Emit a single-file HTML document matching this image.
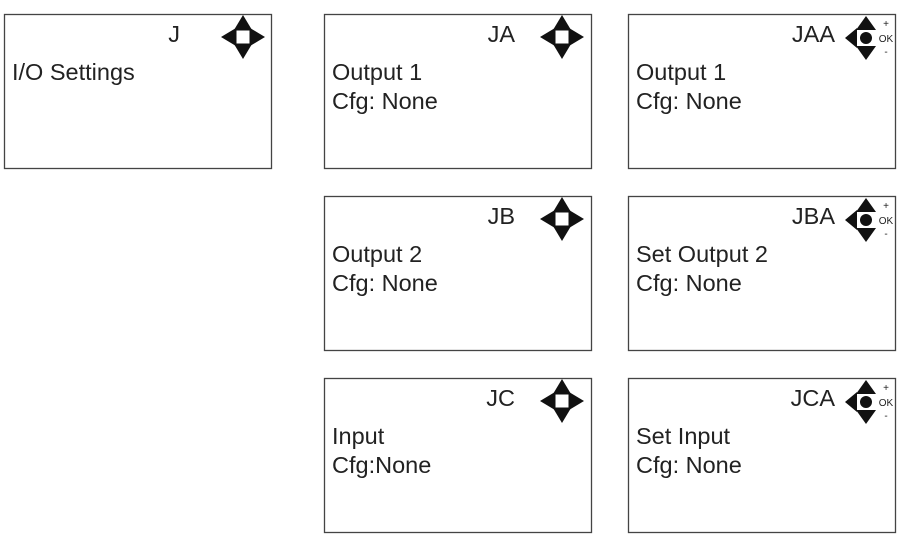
<!DOCTYPE html>
<html><head><meta charset="utf-8"><style>
html,body{margin:0;padding:0;background:#fff;}
svg{display:block;}
text{font-family:"Liberation Sans",sans-serif;fill:#222;}
.t{font-size:23.5px;}
.s{font-size:10px;}
</style></head><body>
<svg width="911" height="545" viewBox="0 0 911 545" xmlns="http://www.w3.org/2000/svg">
<defs>
<g id="nav">
<polygon points="0,-22 -9,-7 9,-7" fill="#111"/>
<polygon points="0,22 -9,7 9,7" fill="#111"/>
<polygon points="-22,0 -7,-9 -7,9" fill="#111"/>
<polygon points="22,0 7,-9 7,9" fill="#111"/>
<rect x="-8" y="-8" width="16" height="16" fill="#111"/>
<rect x="-6.5" y="-6.5" width="13" height="13" fill="#fff"/>
</g>
<g id="ok">
<polygon points="0,-22 -10,-8 10,-8" fill="#111"/>
<polygon points="0,22 -10,8 10,8" fill="#111"/>
<polygon points="-21,0 -9,-10 -9,10" fill="#111"/>
<circle cx="0" cy="0" r="6" fill="#111"/>
<text class="s" x="20" y="-11" text-anchor="middle">+</text>
<text class="s" x="20" y="4" text-anchor="middle">OK</text>
<text class="s" x="20" y="17" text-anchor="middle">-</text>
</g>
</defs>
<g fill="#fff" stroke="#444" stroke-width="1.3">
<rect x="4.5" y="14.5" width="267" height="154"/>
<rect x="324.5" y="14.5" width="267" height="154"/>
<rect x="628.5" y="14.5" width="267" height="154"/>
<rect x="324.5" y="196.5" width="267" height="154"/>
<rect x="628.5" y="196.5" width="267" height="154"/>
<rect x="324.5" y="378.5" width="267" height="154"/>
<rect x="628.5" y="378.5" width="267" height="154"/>
</g>
<use href="#nav" x="243" y="37"/>
<use href="#nav" x="562" y="37"/>
<use href="#nav" x="562" y="219"/>
<use href="#nav" x="562" y="401"/>
<use href="#ok" x="866" y="38"/>
<use href="#ok" x="866" y="220"/>
<use href="#ok" x="866" y="402"/>
<text class="t" x="180" y="42" text-anchor="end">J</text>
<text class="t" x="515" y="42" text-anchor="end">JA</text>
<text class="t" x="515" y="224" text-anchor="end">JB</text>
<text class="t" x="515" y="406" text-anchor="end">JC</text>
<text class="t" x="835" y="42" text-anchor="end">JAA</text>
<text class="t" x="835" y="224" text-anchor="end">JBA</text>
<text class="t" x="835" y="406" text-anchor="end">JCA</text>
<text class="t" x="12" y="80">I/O Settings</text>
<text class="t" x="332" y="80">Output 1</text>
<text class="t" x="332" y="109">Cfg: None</text>
<text class="t" x="636" y="80">Output 1</text>
<text class="t" x="636" y="109">Cfg: None</text>
<text class="t" x="332" y="262">Output 2</text>
<text class="t" x="332" y="291">Cfg: None</text>
<text class="t" x="636" y="262">Set Output 2</text>
<text class="t" x="636" y="291">Cfg: None</text>
<text class="t" x="332" y="444">Input</text>
<text class="t" x="332" y="473">Cfg:None</text>
<text class="t" x="636" y="444">Set Input</text>
<text class="t" x="636" y="473">Cfg: None</text>
</svg>
</body></html>
